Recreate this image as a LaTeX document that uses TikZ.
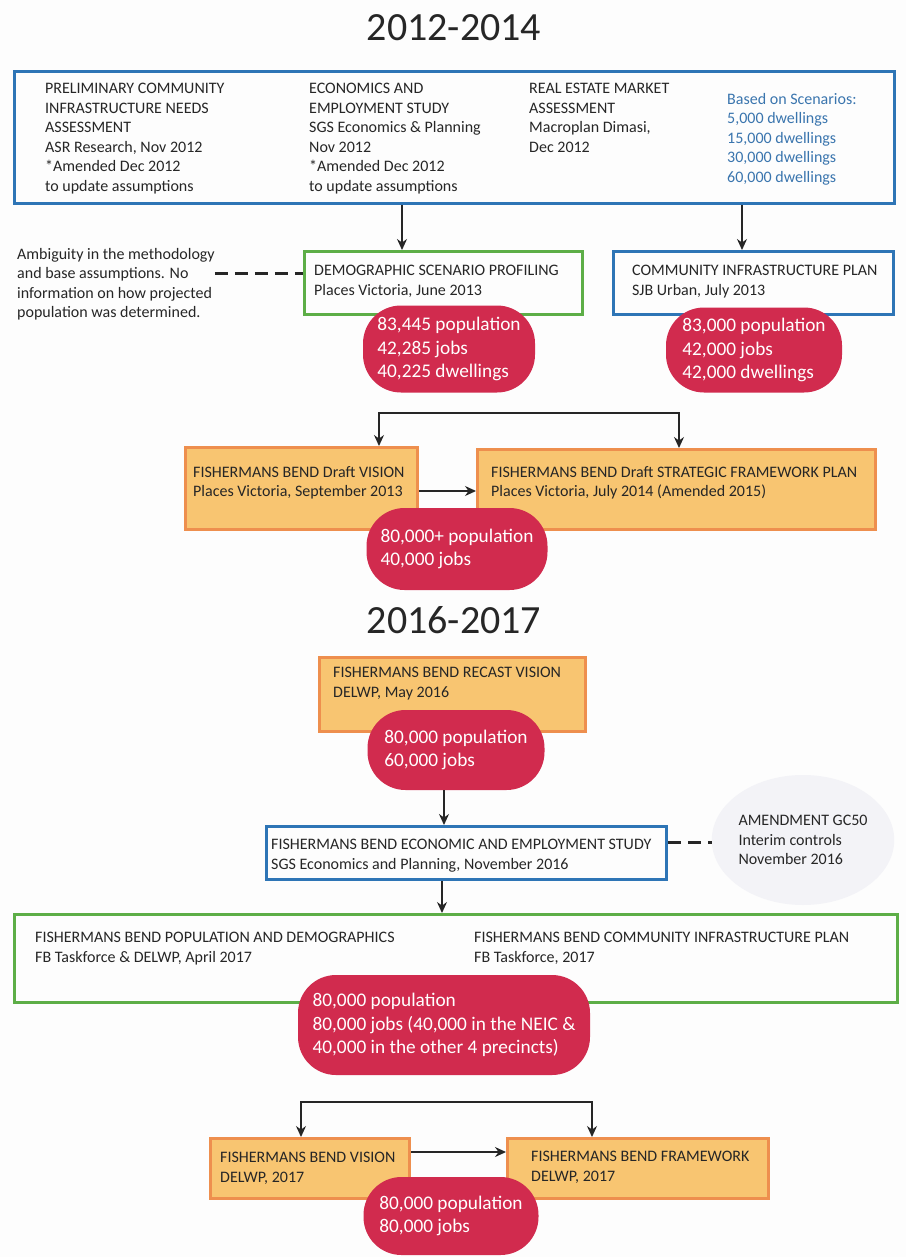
\documentclass[tikz,border=0pt]{standalone}
\usepackage{fontspec}
\setmainfont{Carlito}
\usepackage{tikz}
\usetikzlibrary{arrows.meta,shapes.geometric}
\definecolor{bg}{HTML}{FDFDFD}
\definecolor{ink}{HTML}{262626}
\definecolor{fbblue}{HTML}{2E75B6}
\definecolor{fbgreen}{HTML}{5DAE47}
\definecolor{fborange}{HTML}{EE8F4E}
\definecolor{fbsand}{HTML}{F8C571}
\definecolor{fbred}{HTML}{D12B4E}
\definecolor{scen}{HTML}{3A75AE}
\definecolor{haze}{HTML}{F3F3F7}
\newcommand\bodyfont{\fontsize{16}{19.5}\selectfont}
\newcommand\blobfont{\fontsize{19.3}{23.3}\selectfont}
\newcommand\yearfont{\fontsize{40}{48}\selectfont}
\tikzset{
  box/.style={rectangle, anchor=north west, inner sep=0pt, line width=3pt},
  bluebox/.style={box, draw=fbblue, fill=bg},
  greenbox/.style={box, draw=fbgreen, fill=bg},
  sandbox/.style={box, draw=fborange, fill=fbsand},
  txt/.style={anchor=north west, inner sep=0pt, align=left, text=ink, font=\bodyfont, execute at begin node=\strut},
  blob/.style={rectangle, rounded corners=38pt, fill=fbred, text=white, font=\blobfont, align=left, inner sep=0pt},
  year/.style={text=ink, font=\yearfont, inner sep=0pt},
  haze/.style={ellipse, fill=haze, inner sep=0pt, align=left, text=ink, font=\bodyfont},
  arr/.style={draw=ink, line width=1.4pt, -{Stealth[length=11pt,width=10pt]}},
  dblarr/.style={draw=ink, line width=1.4pt, {Stealth[length=11pt,width=10pt]}-{Stealth[length=11pt,width=10pt]}},
  linkdash/.style={draw=ink, line width=3pt, dash pattern=on 13pt off 7pt},
}

\begin{document}
\begin{tikzpicture}[x=1pt,y=-1pt]
  \fill[bg] (0,0) rectangle (906,1257);
  \useasboundingbox (0,0) rectangle (906,1257);

  \node[year] (y1) at (454,28) {2012-2014};
  \node[year] (y2) at (454,620) {2016-2017};

  \node[haze, minimum width=160pt, minimum height=130pt] (gc50) at (803,840) {AMENDMENT GC50\\Interim controls\\November 2016};

  \node[bluebox, minimum width=880pt, minimum height=132pt] (top) at (13,70) {};
  \node[greenbox, minimum width=278pt, minimum height=63pt] (demo) at (303,250) {};
  \node[bluebox, minimum width=280pt, minimum height=63pt] (cip) at (612,250) {};
  \node[sandbox, minimum width=232pt, minimum height=82pt] (vis1) at (184,446) {};
  \node[sandbox, minimum width=398pt, minimum height=80pt] (fw1) at (476,448) {};
  \node[sandbox, minimum width=266pt, minimum height=74pt] (recast) at (318,656) {};
  \node[bluebox, minimum width=400pt, minimum height=53pt] (econ) at (265,825) {};
  \node[greenbox, minimum width=883pt, minimum height=88pt] (pop) at (13,913) {};
  \node[sandbox, minimum width=199pt, minimum height=60pt] (vis2) at (209,1137) {};
  \node[sandbox, minimum width=261pt, minimum height=60pt] (fw2) at (506,1137) {};

  \node[txt] (pcina) at (45,83) {PRELIMINARY COMMUNITY\\INFRASTRUCTURE NEEDS\\ASSESSMENT\\ASR Research, Nov 2012\\*Amended Dec 2012\\to update assumptions};
  \node[txt] (ees) at (309,83) {ECONOMICS AND\\EMPLOYMENT STUDY\\SGS Economics \& Planning\\Nov 2012\\*Amended Dec 2012\\to update assumptions};
  \node[txt] (rema) at (529,83) {REAL ESTATE MARKET\\ASSESSMENT\\Macroplan Dimasi,\\Dec 2012};
  \node[txt, text=scen] (scen) at (727,93) {Based on Scenarios:\\5,000 dwellings\\15,000 dwellings\\30,000 dwellings\\60,000 dwellings};
  \node[txt] (note) at (17,248) {Ambiguity in the methodology\\and base assumptions. No\\information on how projected\\population was determined.};
  \node[txt] (demot) at (314,265) {DEMOGRAPHIC SCENARIO PROFILING\\Places Victoria, June 2013};
  \node[txt] (cipt) at (632,265) {COMMUNITY INFRASTRUCTURE PLAN\\SJB Urban, July 2013};
  \node[txt] (vis1t) at (193,466) {FISHERMANS BEND Draft VISION\\Places Victoria, September 2013};
  \node[txt] (fw1t) at (491,466) {FISHERMANS BEND Draft STRATEGIC FRAMEWORK PLAN\\Places Victoria, July 2014 (Amended 2015)};
  \node[txt] (recastt) at (333,667) {FISHERMANS BEND RECAST VISION\\DELWP, May 2016};
  \node[txt] (econt) at (271,839) {FISHERMANS BEND ECONOMIC AND EMPLOYMENT STUDY\\SGS Economics and Planning, November 2016};
  \node[txt] (popt) at (35,932) {FISHERMANS BEND POPULATION AND DEMOGRAPHICS\\FB Taskforce \& DELWP, April 2017};
  \node[txt] (fbcip) at (474,932) {FISHERMANS BEND COMMUNITY INFRASTRUCTURE PLAN\\FB Taskforce, 2017};
  \node[txt] (vis2t) at (220,1152) {FISHERMANS BEND VISION\\DELWP, 2017};
  \node[txt] (fw2t) at (531,1151) {FISHERMANS BEND FRAMEWORK\\DELWP, 2017};

  \node[blob, minimum width=172pt, minimum height=87pt] (b1) at (449,349) {83,445 population\\42,285 jobs\\40,225 dwellings};
  \node[blob, minimum width=176pt, minimum height=85pt] (b2) at (754,350) {83,000 population\\42,000 jobs\\42,000 dwellings};
  \node[blob, minimum width=181pt, minimum height=82pt] (b3) at (457,549) {80,000+ population\\40,000 jobs};
  \node[blob, minimum width=177pt, minimum height=80pt] (b4) at (456,750) {80,000 population\\60,000 jobs};
  \node[blob, minimum width=292pt, minimum height=100pt] (b5) at (444,1025) {80,000 population\\80,000 jobs (40,000 in the NEIC \&\\40,000 in the other 4 precincts)};
  \node[blob, minimum width=175pt, minimum height=78pt] (b6) at (451,1216) {80,000 population\\80,000 jobs};

  \coordinate (j1) at (379,413);
  \coordinate (j2) at (679,413);
  \coordinate (j3) at (301,1102);
  \coordinate (j4) at (592,1102);

  \draw[arr] (top.south -| 402,0) -- (demo.north -| 402,0);
  \draw[arr] (top.south -| 742,0) -- (cip.north -| 742,0);
  \draw[linkdash] (note.east |- 0,273) -- (demo.west |- 0,273);
  \draw[dblarr] (vis1.north -| j1) -- (j1) -- (j2) -- (fw1.north -| j2);
  \draw[arr] (vis1.east |- 0,491) -- (fw1.west |- 0,491);
  \draw[arr] (b4.south -| 444,0) -- (econ.north -| 444,0);
  \draw[linkdash] (econ.east |- 0,842) -- (gc50.west |- 0,842);
  \draw[arr] (econ.south -| 442,0) -- (pop.north -| 442,0);
  \draw[dblarr] (vis2.north -| j3) -- (j3) -- (j4) -- (fw2.north -| j4);
  \draw[arr] (vis2.east |- 0,1152) -- (fw2.west |- 0,1152);
\end{tikzpicture}
\end{document}
